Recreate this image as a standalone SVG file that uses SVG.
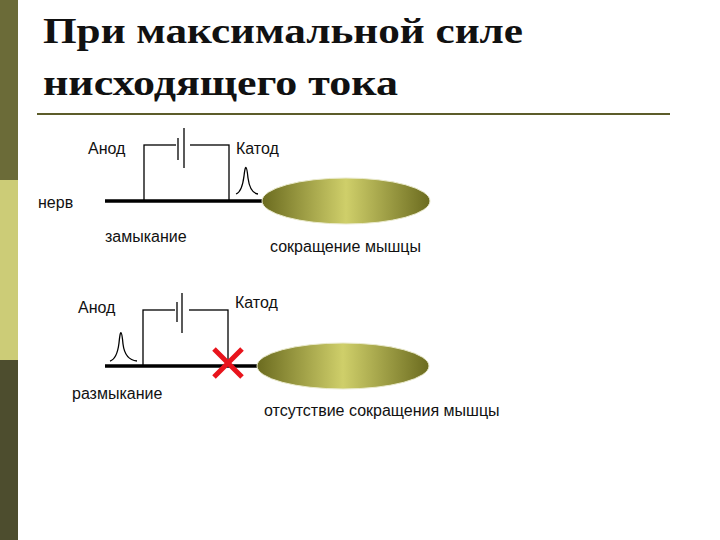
<svg xmlns="http://www.w3.org/2000/svg" width="720" height="540" viewBox="0 0 720 540">
<defs>
<linearGradient id="g" x1="0" y1="0" x2="1" y2="0">
<stop offset="0" stop-color="#6b6b1f"/><stop offset="0.5" stop-color="#cfcf6a"/><stop offset="1" stop-color="#6b6b1f"/>
</linearGradient>
</defs>
<style>
.t{font-family:"Liberation Sans",Arial,sans-serif;font-size:16px;fill:#111}
.h{font-family:"Liberation Serif",serif;font-weight:bold;font-size:35px;fill:#111}
.w{fill:none;stroke:#000;stroke-width:1.3}
.n{stroke:#000;stroke-width:3.5}
.m{fill:url(#g);stroke:#eaeacc;stroke-width:1}
</style>
<rect width="720" height="540" fill="#fff"/>
<rect x="0" y="0" width="18" height="180" fill="#6b6b38"/>
<rect x="0" y="180" width="18" height="180" fill="#cccc77"/>
<rect x="0" y="360" width="18" height="180" fill="#4d4d2e"/>
<text class="h" x="43" y="43" textLength="480" lengthAdjust="spacingAndGlyphs">При максимальной силе</text>
<text class="h" x="43" y="95" textLength="355" lengthAdjust="spacingAndGlyphs">нисходящего тока</text>
<line x1="37" y1="114" x2="670" y2="114" stroke="#5c5c2a" stroke-width="2"/>
<g id="top">
<rect class="w" x="144" y="145" width="85" height="56"/>
<line x1="176" y1="145" x2="190" y2="145" stroke="#fff" stroke-width="3"/>
<line class="w" x1="178" y1="138" x2="178" y2="160"/>
<line class="w" x1="184" y1="128" x2="184" y2="168"/>
<line class="n" x1="105" y1="201" x2="265" y2="201"/>
<path class="w" d="M236 194 Q242 192 244 176 Q246 158 248 178 Q250 193 258 194"/>
<ellipse class="m" cx="346" cy="201" rx="84" ry="23"/>
<text class="t" x="88" y="154">Анод</text>
<text class="t" x="236" y="154">Катод</text>
<text class="t" x="38" y="208">нерв</text>
<text class="t" x="105" y="242">замыкание</text>
<text class="t" x="270" y="252">сокращение мышцы</text>
</g>
<g id="bottom">
<rect class="w" x="143" y="310" width="85" height="56"/>
<line x1="175" y1="310" x2="189" y2="310" stroke="#fff" stroke-width="3"/>
<line class="w" x1="177" y1="302" x2="177" y2="322"/>
<line class="w" x1="182" y1="293" x2="182" y2="333"/>
<line class="n" x1="105" y1="366" x2="260" y2="366"/>
<path class="w" d="M110 361 Q117 359 119 343 Q121 322 123 344 Q125 360 137 361"/>
<ellipse class="m" cx="343" cy="366" rx="86" ry="23"/>
<path d="M214 349 L242 377 M242 349 L214 377" stroke="#e8141c" stroke-width="5"/>
<text class="t" x="78" y="313">Анод</text>
<text class="t" x="235" y="308">Катод</text>
<text class="t" x="72" y="399">размыкание</text>
<text class="t" x="264" y="416">отсутствие сокращения мышцы</text>
</g>
</svg>
